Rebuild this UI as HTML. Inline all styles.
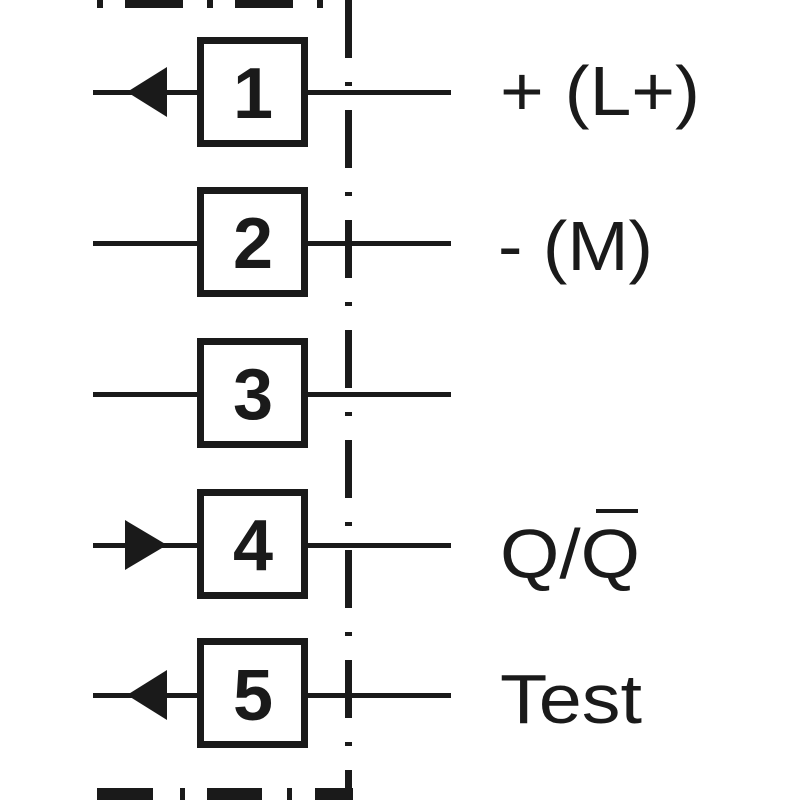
<!DOCTYPE html>
<html><head><style>
html,body{margin:0;padding:0;background:#fff;width:800px;height:800px;overflow:hidden}
svg{display:block}
</style></head><body>
<svg width="800" height="800" viewBox="0 0 800 800" xmlns="http://www.w3.org/2000/svg">
<g fill="#1a1a1a">
  <!-- top border -->
  <rect x="97" y="0" width="6" height="8"/>
  <rect x="125" y="0" width="58" height="8"/>
  <rect x="207" y="0" width="6" height="8"/>
  <rect x="235" y="0" width="58" height="8"/>
  <rect x="317" y="0" width="6" height="8"/>
  <!-- bottom border -->
  <rect x="97" y="788" width="56" height="12"/>
  <rect x="180" y="788" width="5" height="12"/>
  <rect x="207" y="788" width="55" height="12"/>
  <rect x="287" y="788" width="5" height="12"/>
  <rect x="315" y="788" width="38" height="12"/>
  <!-- vertical dash-dot -->
  <rect x="345" y="0" width="7" height="58"/>
  <rect x="345" y="82" width="7" height="4"/>
  <rect x="345" y="110" width="7" height="58"/>
  <rect x="345" y="192" width="7" height="4"/>
  <rect x="345" y="220" width="7" height="58"/>
  <rect x="345" y="302" width="7" height="4"/>
  <rect x="345" y="330" width="7" height="58"/>
  <rect x="345" y="412" width="7" height="4"/>
  <rect x="345" y="440" width="7" height="58"/>
  <rect x="345" y="522" width="7" height="4"/>
  <rect x="345" y="550" width="7" height="58"/>
  <rect x="345" y="632" width="7" height="4"/>
  <rect x="345" y="660" width="7" height="58"/>
  <rect x="345" y="742" width="7" height="4"/>
  <rect x="345" y="770" width="7" height="30"/>
  <!-- horizontal lines -->
  <rect x="93" y="90" width="358" height="5"/>
  <rect x="93" y="241" width="358" height="5"/>
  <rect x="93" y="392" width="358" height="5"/>
  <rect x="93" y="543" width="358" height="5"/>
  <rect x="93" y="693" width="358" height="5"/>
  <!-- arrows -->
  <polygon points="127,92 167,67 167,117"/>
  <polygon points="167,545 125,520 125,570"/>
  <polygon points="127,695 167,670 167,720"/>
</g>
<g fill="#fff" stroke="#1a1a1a" stroke-width="7">
  <rect x="200.5" y="40.5" width="104" height="103"/>
  <rect x="200.5" y="190.5" width="104" height="103"/>
  <rect x="200.5" y="341.5" width="104" height="103"/>
  <rect x="200.5" y="492.5" width="104" height="103"/>
  <rect x="200.5" y="641.5" width="104" height="103"/>
</g>
<g font-family="Liberation Sans, sans-serif" font-weight="bold" font-size="72" text-anchor="middle" fill="#1a1a1a">
  <text x="253" y="118">1</text>
  <text x="253" y="268">2</text>
  <text x="253" y="419">3</text>
  <text x="253" y="570">4</text>
  <text x="253" y="720">5</text>
</g>
<g font-family="Liberation Sans, sans-serif" font-size="70" fill="#1a1a1a">
  <text x="500" y="115" textLength="200" lengthAdjust="spacingAndGlyphs">+ (L+)</text>
  <text x="498" y="270" textLength="155" lengthAdjust="spacingAndGlyphs">- (M)</text>
  <text x="500" y="578" textLength="140" lengthAdjust="spacingAndGlyphs">Q/Q</text>
  <text x="500" y="723" textLength="142" lengthAdjust="spacingAndGlyphs">Test</text>
</g>
<rect x="596" y="509" width="42" height="4" fill="#1a1a1a"/>
</svg>
</body></html>
